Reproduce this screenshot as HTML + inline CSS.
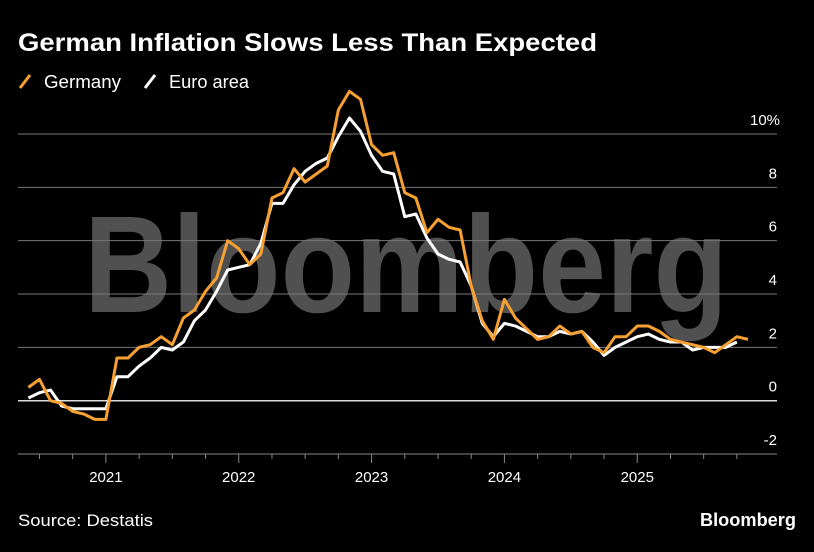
<!DOCTYPE html>
<html><head><meta charset="utf-8"><style>
html,body{margin:0;padding:0;background:#000;}
body{width:814px;height:547px;overflow:hidden;font-family:"Liberation Sans",sans-serif;}
</style></head><body>
<svg id="c" width="814" height="547" xmlns="http://www.w3.org/2000/svg">
<rect width="814" height="547" fill="#000"/>
<text x="18" y="51" fill="#fff" font-size="25" font-weight="bold" textLength="579" lengthAdjust="spacingAndGlyphs">German Inflation Slows Less Than Expected</text>
<g>
<line x1="20" y1="88" x2="30" y2="75" stroke="#f7a032" stroke-width="3"/>
<text x="44" y="88" fill="#fff" font-size="18" textLength="77" lengthAdjust="spacingAndGlyphs">Germany</text></g>
<g>
<line x1="145" y1="88" x2="155" y2="75" stroke="#fff" stroke-width="3"/>
<text x="169" y="88" fill="#fff" font-size="18" textLength="80" lengthAdjust="spacingAndGlyphs">Euro area</text></g>
<text x="84" y="312" fill="#505050" font-size="138" font-weight="bold" textLength="644" lengthAdjust="spacingAndGlyphs">Bloomberg</text>
<g id="grid"></g><g id="axis"></g><g id="series"></g>
<text x="18" y="526" fill="#fff" font-size="17" textLength="135" lengthAdjust="spacingAndGlyphs">Source: Destatis</text>
<text x="700" y="526" fill="#fff" font-size="18" font-weight="bold" textLength="96" lengthAdjust="spacingAndGlyphs">Bloomberg</text>
</svg>
<script>
const startYear = 2020, startMonth = 5;
const germany = [0.5,0.8,0.0,-0.1,-0.4,-0.5,-0.7,-0.7,
1.6,1.6,2.0,2.1,2.4,2.1,3.1,3.4,4.1,4.6,6.0,5.7,
5.1,5.5,7.6,7.8,8.7,8.2,8.5,8.8,10.9,11.6,11.3,9.6,
9.2,9.3,7.8,7.6,6.3,6.8,6.5,6.4,4.3,3.0,2.3,3.8,
3.1,2.7,2.3,2.4,2.8,2.5,2.6,2.0,1.8,2.4,2.4,2.8,
2.8,2.6,2.3,2.2,2.1,2.0,1.8,2.1,2.4,2.3];
const euroArea = [0.1,0.3,0.4,-0.2,-0.3,-0.3,-0.3,-0.3,
0.9,0.9,1.3,1.6,2.0,1.9,2.2,3.0,3.4,4.1,4.9,5.0,
5.1,5.9,7.4,7.4,8.1,8.6,8.9,9.1,9.9,10.6,10.1,9.2,
8.6,8.5,6.9,7.0,6.1,5.5,5.3,5.2,4.3,2.9,2.4,2.9,
2.8,2.6,2.4,2.4,2.6,2.5,2.6,2.2,1.7,2.0,2.2,2.4,
2.5,2.3,2.2,2.2,1.9,2.0,2.0,2.0,2.2];
const yTicks = [10,8,6,4,2,0,-2];
const yTickLabels = ["10%","8","6","4","2","0","-2"];
const xYears = ["2021","2022","2023","2024","2025"];

const NS="http://www.w3.org/2000/svg";
const xs = i => 28.4 + i*11.07;
const ys = v => 400.7 - v*26.67;
const L = 18, R = 777;
function mk(tag, attrs, parent){const e=document.createElementNS(NS,tag);for(const k in attrs)e.setAttribute(k,attrs[k]);parent.appendChild(e);return e;}
const grid=document.getElementById('grid'), axis=document.getElementById('axis'), ser=document.getElementById('series');
yTicks.forEach((t,k)=>{
  if(t>-2){const g=mk('line',{x1:L,x2:R,y1:ys(t),y2:ys(t),stroke:t===0?'#ddd':'#777','stroke-width':t===0?1.5:1},grid);
  
  }
  const tx=mk('text',{x:t===10?765:777,y:ys(t)-9,fill:'#fff','font-size':'15','text-anchor':t===10?'middle':'end'},axis);
  tx.textContent=yTickLabels[k];
  
  
});
const base=mk('line',{x1:L,x2:R,y1:454,y2:454,stroke:'#888','stroke-width':1},axis);


for(let i=0;i<70;i++){
  const m=(startMonth-1+i)%12;
  if(m%3!==2) continue;
  const x=xs(i); if(x<L||x>R-20) continue;
  const yr=(m===11);
  const tk=mk('line',{x1:x,x2:x,y1:454,y2:yr?463:459,stroke:'#888','stroke-width':1},axis);
  
  
}
xYears.forEach(y=>{
  const i=(parseInt(y)-1-startYear)*12+12-startMonth;
  const tx=mk('text',{x:xs(i),y:482,fill:'#fff','font-size':'15','text-anchor':'middle'},axis);
  tx.textContent=y;
  
  
});
function line(data,color,name){
  const p=mk('polyline',{points:data.map((v,i)=>xs(i)+','+ys(v)).join(' '),fill:'none',stroke:color,'stroke-width':3,'stroke-linejoin':'round'},ser);
  
  
}
line(euroArea,'#ffffff','euro-area-line');
line(germany,'#f7a032','germany-line');
</script>
</body></html>
